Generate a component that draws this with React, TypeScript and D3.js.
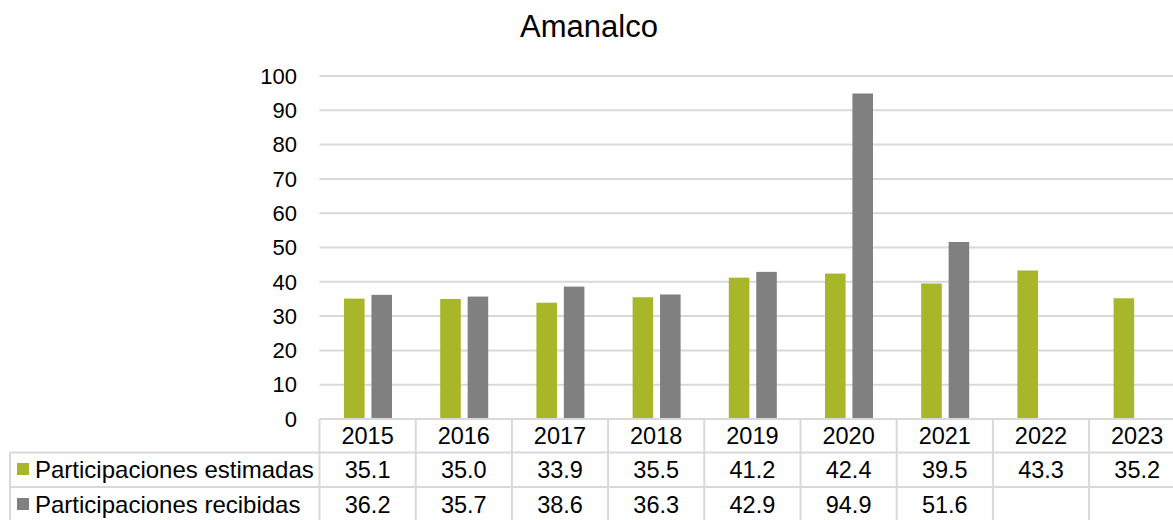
import React, { useEffect, useRef } from 'react';
import * as d3 from 'd3';

const title = 'Amanalco';
const years = ['2015', '2016', '2017', '2018', '2019', '2020', '2021', '2022', '2023'];
const seriesNames = ['Participaciones estimadas', 'Participaciones recibidas'];
const estimadas = [35.1, 35.0, 33.9, 35.5, 41.2, 42.4, 39.5, 43.3, 35.2];
const recibidas: (number | null)[] = [36.2, 35.7, 38.6, 36.3, 42.9, 94.9, 51.6, null, null];
const yTicks = [0, 10, 20, 30, 40, 50, 60, 70, 80, 90, 100];
const colors = ['#A8B62A', '#808080'];

export default function App() {
  const ref = useRef<SVGSVGElement | null>(null);

  useEffect(() => {
    const svg = d3.select(ref.current);
    svg.selectAll('*').remove();
    const font = '"Liberation Sans", Arial, sans-serif';
    const grid = '#D9D9D9';

    const plotLeft = 319.5;
    const colW = 96.2;
    const x = d3.scaleBand().domain(years).range([plotLeft, plotLeft + colW * years.length]).padding(0);
    const x1 = d3.scaleBand().domain(seriesNames).range([24.5, 72.5]).paddingInner(0.25);
    const y = d3.scaleLinear().domain([0, 100]).range([419, 76]);

    svg.append('text')
      .attr('x', 589).attr('y', 37)
      .attr('text-anchor', 'middle')
      .style('font-family', font).style('font-size', '31px').attr('fill', '#000')
      .text(title);

    // gridlines
    svg.append('g').selectAll('line').data(yTicks.filter(t => t > 0)).enter().append('line')
      .attr('x1', plotLeft).attr('x2', 1173)
      .attr('y1', d => y(d)).attr('y2', d => y(d))
      .attr('stroke', grid).attr('stroke-width', 2);

    // y tick labels
    svg.append('g').selectAll('text').data(yTicks).enter().append('text')
      .attr('x', 297).attr('y', d => y(d))
      .attr('dy', '0.35em').attr('text-anchor', 'end')
      .style('font-family', font).style('font-size', '22px').attr('fill', '#000')
      .text(d => d);

    // bars
    const data = [estimadas, recibidas];
    data.forEach((vals, si) => {
      svg.append('g').selectAll('rect').data(years.map((yr, i) => ({ yr, v: vals[i] })).filter(d => d.v != null))
        .enter().append('rect')
        .attr('x', d => (x(d.yr) as number) + (x1(seriesNames[si]) as number))
        .attr('width', x1.bandwidth())
        .attr('y', d => y(d.v as number))
        .attr('height', d => y(0) - y(d.v as number))
        .attr('fill', colors[si]);
    });

    // data table
    const rowTops = [419, 452.5, 487, 521.5];
    const tableRight = plotLeft + colW * years.length;
    const t = svg.append('g');
    const line = (x1v: number, y1v: number, x2v: number, y2v: number) =>
      t.append('line').attr('x1', x1v).attr('y1', y1v).attr('x2', x2v).attr('y2', y2v)
        .attr('stroke', grid).attr('stroke-width', 2);

    line(plotLeft, rowTops[0], tableRight, rowTops[0]);
    line(10, rowTops[1], tableRight, rowTops[1]);
    line(10, rowTops[2], tableRight, rowTops[2]);
    line(10, rowTops[3], tableRight, rowTops[3]);
    line(10, rowTops[1], 10, rowTops[3]);
    years.forEach(yr => line(x(yr) as number, rowTops[0], x(yr) as number, rowTops[3]));
    line(tableRight, rowTops[0], tableRight, rowTops[3]);

    t.selectAll('text.yr').data(years).enter().append('text')
      .attr('x', d => (x(d) as number) + colW / 2).attr('y', 444)
      .attr('text-anchor', 'middle')
      .style('font-family', font).style('font-size', '23.5px').attr('fill', '#000')
      .text(d => d);

    const rowBase = [478, 513];
    data.forEach((vals, si) => {
      t.append('rect').attr('x', 17).attr('y', rowBase[si] - 15).attr('width', 12).attr('height', 12).attr('fill', colors[si]);
      t.append('text').attr('x', 35).attr('y', rowBase[si])
        .style('font-family', font).style('font-size', '24px').attr('fill', '#000')
        .text(seriesNames[si]);
      t.append('g').selectAll('text').data(years.map((yr, i) => ({ yr, v: vals[i] })).filter(d => d.v != null))
        .enter().append('text')
        .attr('x', d => (x(d.yr) as number) + colW / 2).attr('y', rowBase[si])
        .attr('text-anchor', 'middle')
        .style('font-family', font).style('font-size', '23.5px').attr('fill', '#000')
        .text(d => (d.v as number).toFixed(1));
    });
  }, []);

  return (
    <svg ref={ref} width={1173} height={520}
      style={{ position: 'absolute', left: 0, top: 0, background: '#fff', display: 'block' }} />
  );
}
